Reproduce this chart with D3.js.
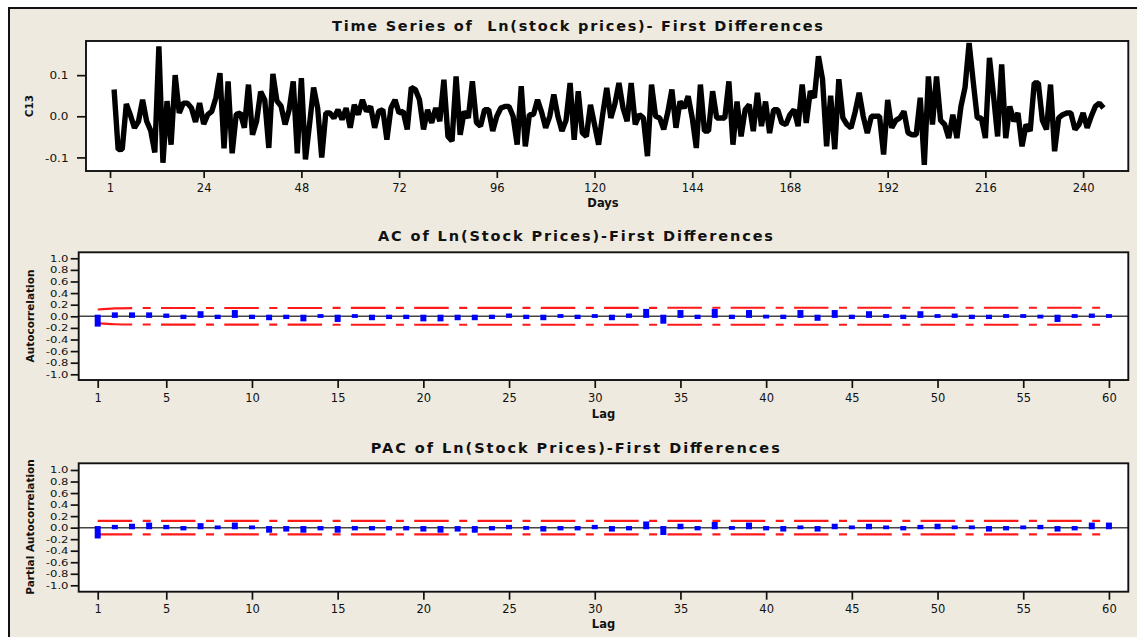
<!DOCTYPE html>
<html><head><meta charset="utf-8">
<script src="https://cdn.jsdelivr.net/npm/d3@7"></script>
<style>
html,body{margin:0;padding:0;background:#fff;}
svg{display:block;}
text{font-family:"DejaVu Sans",Verdana,sans-serif;fill:#111;}
</style></head><body>
<svg id="chart" width="1137" height="637"></svg>
<script>
// ---------------- data ----------------
const tsTitle = "Time Series of  Ln(stock prices)- First Differences";
const acTitle = "AC of Ln(Stock Prices)-First Differences";
const pacTitle = "PAC of Ln(Stock Prices)-First Differences";
const tsXLabel = "Days", tsYLabel = "C13";
const lagLabel = "Lag", acYLabel = "Autocorrelation", pacYLabel = "Partial Autocorrelation";

const tsStartDay = 2;
const tsValues = [
 0.065,-0.081,-0.08,0.03,0.003,-0.028,-0.012,0.04,-0.012,-0.035,
 -0.088,0.17,-0.113,0.037,-0.069,0.1,0.008,0.032,0.032,0.02,
 -0.014,0.032,-0.019,0.004,0.012,0.045,0.105,-0.078,0.085,-0.09,
 0.005,0.008,-0.028,0.077,-0.045,-0.012,0.06,0.04,-0.077,0.103,
 0.037,0.025,-0.02,0.016,0.085,-0.09,0.093,-0.105,-0.02,0.07,
 0.02,-0.1,0.008,0.008,-0.004,0.016,-0.008,0.02,-0.028,0.028,
 0.004,0.04,0.012,0.024,-0.028,0.012,0.016,-0.057,0.02,0.04,
 0.008,0.012,-0.032,0.07,0.065,0.04,-0.032,0.016,-0.016,0.02,
 -0.012,0.089,-0.049,-0.06,0.097,-0.045,0.012,-0.004,0.085,-0.015,
 -0.024,0.016,0.016,-0.036,0.0,0.02,0.024,0.024,0.0,-0.069,
 0.073,-0.073,0.004,0.004,0.04,0.01,-0.028,0.0,0.053,0.0,
 -0.036,-0.01,0.081,-0.057,0.061,-0.04,-0.049,0.028,-0.02,-0.069,
 0.004,0.069,-0.004,0.03,0.081,0.02,-0.012,0.081,-0.02,0.004,
 -0.004,-0.097,0.077,0.0,-0.004,-0.032,0.01,0.065,-0.028,0.036,
 0.02,0.049,-0.004,-0.077,0.077,-0.036,-0.036,0.061,-0.004,-0.004,
 -0.004,0.085,-0.069,0.036,-0.049,0.016,0.028,-0.036,0.057,-0.024,
 0.036,-0.041,0.016,0.016,-0.016,-0.02,0.004,0.016,-0.024,0.077,
 -0.016,0.061,0.045,0.146,0.09,-0.073,0.05,-0.08,0.09,-0.004,
 -0.02,-0.028,0.01,0.057,0.0,-0.041,0.0,0.0,0.0,-0.093,
 0.04,-0.028,-0.01,-0.004,0.012,-0.04,-0.045,-0.045,0.045,-0.118,
 0.097,-0.02,0.097,-0.01,-0.02,-0.053,0.004,-0.053,0.024,0.07,
 0.178,0.085,-0.004,-0.004,-0.053,0.142,0.05,-0.049,0.126,-0.053,
 0.024,-0.012,0.008,-0.073,-0.02,-0.036,0.081,0.081,-0.01,-0.032,
 0.077,-0.085,-0.004,0.004,0.008,0.008,-0.032,-0.02,0.008,-0.028,
 0.0,0.024,0.032,0.02
];
const tsXTicks = [1,24,48,72,96,120,144,168,192,216,240];
const tsYTicks = [-0.1,0.0,0.1];

const acfValues = [
 -0.15,0.04,0.04,0.04,0.02,-0.02,0.06,-0.02,0.08,-0.02,
 -0.04,-0.02,-0.06,0.01,-0.07,0.01,-0.04,-0.02,-0.02,-0.06,
 -0.06,-0.04,-0.04,-0.02,0.02,-0.02,-0.04,0.01,-0.02,0.01,
 -0.04,0.02,0.1,-0.1,0.08,-0.02,0.1,-0.02,0.08,-0.01,
 -0.02,0.08,-0.05,0.08,-0.02,0.06,0.01,-0.02,0.06,0.01,
 0.02,-0.02,-0.02,0.01,0.01,-0.01,-0.07,0.01,0.02,0.01
];
const acfLimits = [
 0.118,0.136,0.141,0.142,0.143,0.143,0.143,0.144,0.144,0.144,
 0.144,0.144,0.144,0.144,0.145,0.145,0.145,0.145,0.145,0.145,
 0.145,0.145,0.145,0.145,0.145,0.145,0.145,0.145,0.145,0.145,
 0.145,0.145,0.145,0.146,0.146,0.146,0.146,0.146,0.146,0.146,
 0.146,0.146,0.146,0.146,0.146,0.146,0.146,0.146,0.146,0.146,
 0.146,0.146,0.146,0.146,0.146,0.146,0.146,0.146,0.146,0.146
];
const pacfValues = [
 -0.16,0.02,0.04,0.06,0.02,-0.02,0.05,0.01,0.06,0.01,
 -0.06,-0.04,-0.06,-0.02,-0.06,-0.02,-0.02,-0.02,-0.02,-0.04,
 -0.06,-0.04,-0.06,-0.02,0.02,-0.01,-0.04,-0.02,-0.02,0.02,
 -0.04,-0.02,0.08,-0.1,0.04,-0.02,0.07,-0.01,0.06,-0.02,
 -0.04,0.01,-0.04,0.04,0.01,0.04,0.01,-0.02,0.02,0.04,
 0.01,0.01,-0.04,-0.02,0.01,0.02,-0.04,-0.02,0.06,0.06
];
const pacfLimit = 0.117;
const corrYTicks = [-1.0,-0.8,-0.6,-0.4,-0.2,0.0,0.2,0.4,0.6,0.8,1.0];
const lagTicks = [1,5,10,15,20,25,30,35,40,45,50,55,60];

// ---------------- drawing ----------------
const svg = d3.select("#chart");
svg.append("rect").attr("x",0).attr("y",0).attr("width",1137).attr("height",637).attr("fill","#fff");
svg.append("rect").attr("x",9).attr("y",8).attr("width",1150).attr("height",650)
   .attr("fill","#EEEAE0").attr("stroke","#111").attr("stroke-width",2);

function stretch(sel, factor){
  sel.each(function(){
    const len = this.getComputedTextLength();
    d3.select(this).attr("textLength", len*factor).attr("lengthAdjust","spacingAndGlyphs");
  });
}

function title(txt, cx, by, width, size){
  svg.append("text").attr("x",cx).attr("y",by).attr("text-anchor","middle")
    .style("white-space","pre").attr("font-size",size).attr("font-weight","bold")
    .attr("textLength",width).attr("lengthAdjust","spacing").text(txt);
}

function frame(x, y){
  const [x0,x1] = x.range(), [y1,y0] = y.range();
  svg.append("rect").attr("x",x0).attr("y",y0).attr("width",x1-x0).attr("height",y1-y0)
     .attr("fill","#fff");
}
function frameBorder(x, y){
  const [x0,x1] = x.range(), [y1,y0] = y.range();
  svg.append("rect").attr("x",x0).attr("y",y0).attr("width",x1-x0).attr("height",y1-y0)
     .attr("fill","none").attr("stroke","#111").attr("stroke-width",1.9);
}

function axes(x, y, xTicks, yTicks, opt){
  const [x0] = x.range(), [y1] = y.range();
  const gx = svg.append("g").attr("transform",`translate(0,${y1})`)
    .call(d3.axisBottom(x).tickValues(xTicks).tickSize(opt.xTick).tickFormat(d=>String(d)));
  gx.select(".domain").remove();
  gx.selectAll("line").attr("stroke","#111").attr("stroke-width",1.7);
  gx.selectAll("text").attr("y",opt.xLabY).attr("dy",0).attr("font-size",opt.xFont)
    .attr("fill","#111").attr("font-family","DejaVu Sans");
  stretch(gx.selectAll("text"), opt.xStretch);
  const gy = svg.append("g").attr("transform",`translate(${x0},0)`)
    .call(d3.axisLeft(y).tickValues(yTicks).tickSize(opt.yTick).tickFormat(d=>d.toFixed(1)));
  gy.select(".domain").remove();
  gy.selectAll("line").attr("stroke","#111").attr("stroke-width",1.7);
  gy.selectAll("text").attr("x",opt.yLabX).attr("dy","0.36em").attr("font-size",opt.yFont)
    .attr("fill","#111").attr("font-family","DejaVu Sans");
  stretch(gy.selectAll("text"), opt.yStretch);
}

function axisTitles(xt, xcx, xby, yt, ybx, ycy){
  svg.append("text").attr("x",xcx).attr("y",xby).attr("text-anchor","middle")
     .attr("font-size",11.5).attr("font-weight","bold").text(xt);
  svg.append("text").attr("transform",`translate(${ybx},${ycy}) rotate(-90)`)
     .attr("text-anchor","middle").attr("font-size",10.5).attr("font-weight","bold").text(yt);
}

// ---- Panel 1: time series ----
const tsX = d3.scaleLinear().domain([-4.9, 251.1]).range([86, 1128.3]);
const tsY = d3.scaleLinear().domain([-0.133, 0.183]).range([171, 41]);
frame(tsX, tsY);
const tsData = tsValues.map((v,i)=>({day: tsStartDay+i, v}));
svg.append("path").datum(tsData)
   .attr("d", d3.line().x(d=>tsX(d.day)).y(d=>tsY(d.v)))
   .attr("fill","none").attr("stroke","#000").attr("stroke-width",5.4)
   .attr("stroke-linejoin","bevel");
frameBorder(tsX, tsY);
axes(tsX, tsY, tsXTicks, tsYTicks, {xTick:7, xLabY:20.5, xFont:11.5, xStretch:1.0,
     yTick:9, yLabX:-17.5, yFont:10, yStretch:1.2});
title(tsTitle, 577.5, 31, 491, 14.5);
axisTitles(tsXLabel, 603, 207, tsYLabel, 33, 106);

// ---- correlation panels ----
function corrPanel(values, limU, limL, yRange, titleCfg, ytitle, ycy, lagBy){
  const x = d3.scaleLinear().domain([-0.109, 61.13]).range([78.7, 1128.3]);
  const y = d3.scaleLinear().domain(yRange.domain).range(yRange.range);
  frame(x, y);
  const y0 = y(0);
  svg.append("line").attr("x1",x.range()[0]).attr("x2",x.range()[1])
     .attr("y1",y0).attr("y2",y0).attr("stroke","#444").attr("stroke-width",1.5);
  const lags = values.map((v,i)=>({lag:i+1, v, u:limU[i], l:limL[i]}));
  const line = d3.line().curve(d3.curveMonotoneX);
  ["u","l"].forEach(k=>{
    svg.append("path").datum(lags)
      .attr("d", line.x(d=>x(d.lag)).y(d=>y(d[k])))
      .attr("fill","none").attr("stroke","#FF1A1A").attr("stroke-width",2.1)
      .attr("stroke-dasharray","34.5,10.5,8,10.3");
  });
  svg.selectAll(null).data(lags).enter().append("rect")
    .attr("x", d=>x(d.lag)-3).attr("width",6)
    .attr("y", d=>Math.min(y(d.v),y0)-1.6)
    .attr("height", d=>Math.abs(y(d.v)-y0)+3.2)
    .attr("fill","#0000FF");
  frameBorder(x, y);
  axes(x, y, lagTicks, corrYTicks, {xTick:8, xLabY:titleCfg.xLabY, xFont:11.5, xStretch:1.0,
       yTick:8, yLabX:-10.2, yFont:8.3, yStretch:1.4});
  title(titleCfg.text, titleCfg.cx, titleCfg.by, titleCfg.w, 14.5);
  axisTitles(lagLabel, 603.5, lagBy, ytitle, 34, ycy);
}

corrPanel(acfValues, acfLimits, acfLimits.map(d=>-d),
  {domain:[-1.098, 1.103], range:[380, 252.3]},
  {text:acTitle, cx:575.5, by:241, w:395, xLabY:21.5}, acYLabel, 316, 417.5);

corrPanel(pacfValues, pacfValues.map(()=>pacfLimit), pacfValues.map(()=>-pacfLimit),
  {domain:[-1.111, 1.116], range:[591.7, 463.3]},
  {text:pacTitle, cx:575.3, by:452.5, w:409, xLabY:21}, pacYLabel, 527, 627.5);
</script>
</body></html>
